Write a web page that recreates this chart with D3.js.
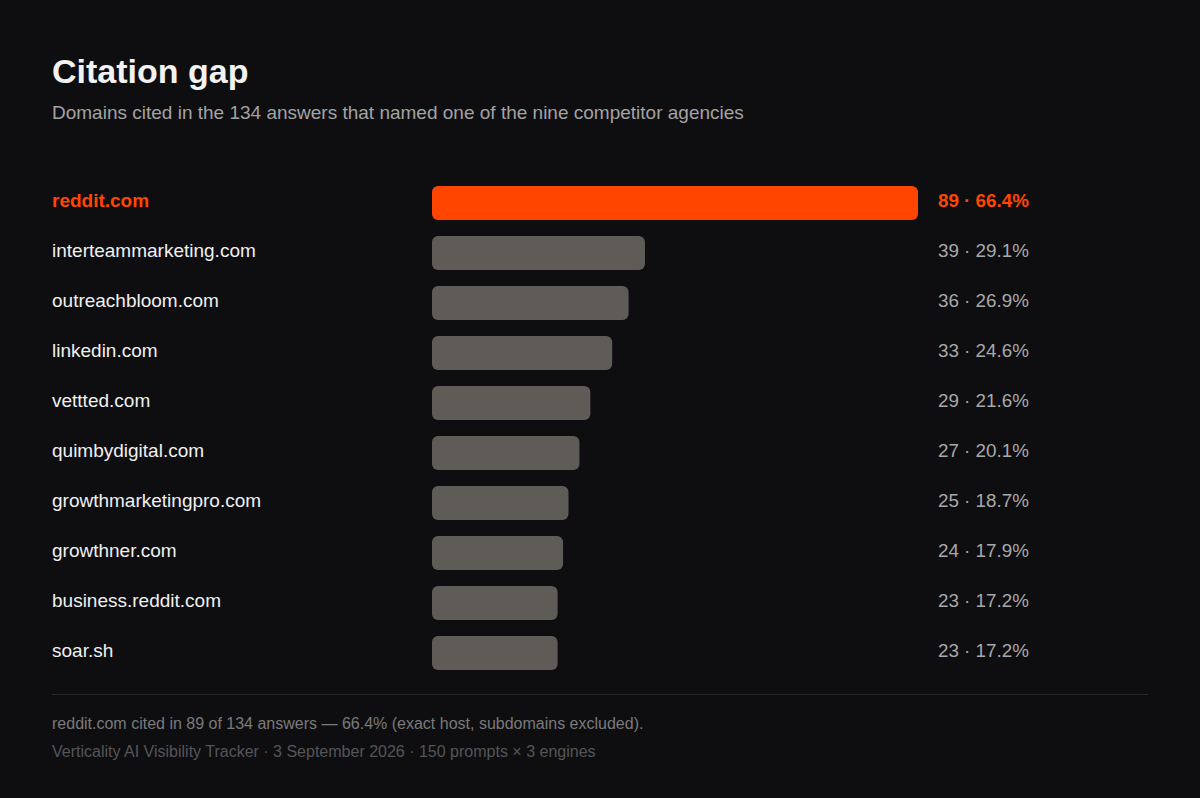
<!DOCTYPE html>
<html><head><meta charset="utf-8">
<script src="https://cdn.jsdelivr.net/npm/d3@7"></script>
<style>body{margin:0;background:#0e0e11;}svg{display:block;font-family:"Liberation Sans",Arial,sans-serif;}</style>
</head><body><svg id="chart"></svg>
<script>
const domains = ["reddit.com","interteammarketing.com","outreachbloom.com","linkedin.com","vettted.com","quimbydigital.com","growthmarketingpro.com","growthner.com","business.reddit.com","soar.sh"];
const counts = [89,39,36,33,29,27,25,24,23,23];
const shares = ["66.4%","29.1%","26.9%","24.6%","21.6%","20.1%","18.7%","17.9%","17.2%","17.2%"];
const total = 134;

const W = 1200, H = 798;
const svg = d3.select("#chart").attr("width", W).attr("height", H);
svg.append("rect").attr("width", W).attr("height", H).attr("fill", "#0e0e11");

svg.append("text").attr("x", 52).attr("y", 83).attr("fill", "#f2f2f2")
  .attr("font-size", 34).attr("font-weight", "bold").text("Citation gap");
svg.append("text").attr("x", 52).attr("y", 119).attr("fill", "#a3a3a3")
  .attr("font-size", 19).text("Domains cited in the 134 answers that named one of the nine competitor agencies");

// Scales
const x = d3.scaleLinear().domain([0, 89]).range([432, 918]);
const y = d3.scaleBand().domain(domains).range([178, 678]).paddingInner(0.32).paddingOuter(0.16);

const rows = svg.append("g").selectAll("g").data(domains).join("g");

rows.append("text").attr("x", 52).attr("y", d => y(d) + y.bandwidth() / 2 + 4)
  .attr("font-size", 19).attr("font-weight", (d, i) => i === 0 ? "bold" : "normal")
  .attr("fill", (d, i) => i === 0 ? "#ff4500" : "#f0f0f0").text(d => d);

rows.append("rect").attr("x", x(0)).attr("y", d => y(d))
  .attr("width", (d, i) => x(counts[i]) - x(0)).attr("height", y.bandwidth())
  .attr("rx", 6).attr("fill", (d, i) => i === 0 ? "#ff4500" : "#5f5c57");

rows.append("text").attr("x", 938).attr("y", d => y(d) + y.bandwidth() / 2 + 4)
  .attr("font-size", 18.8).attr("font-weight", (d, i) => i === 0 ? "bold" : "normal")
  .attr("fill", (d, i) => i === 0 ? "#ff4500" : "#a8a8a8")
  .text((d, i) => `${counts[i]} · ${shares[i]}`);

svg.append("line").attr("x1", 52).attr("x2", 1148).attr("y1", 694.5).attr("y2", 694.5)
  .attr("stroke", "#26262a");

svg.append("text").attr("x", 52).attr("y", 729).attr("fill", "#7a7a7a").attr("font-size", 16)
  .text(`reddit.com cited in ${counts[0]} of ${total} answers — ${shares[0]} (exact host, subdomains excluded).`);
svg.append("text").attr("x", 52).attr("y", 757).attr("fill", "#555558").attr("font-size", 16)
  .text("Verticality AI Visibility Tracker · 3 September 2026 · 150 prompts × 3 engines");
</script></body></html>
